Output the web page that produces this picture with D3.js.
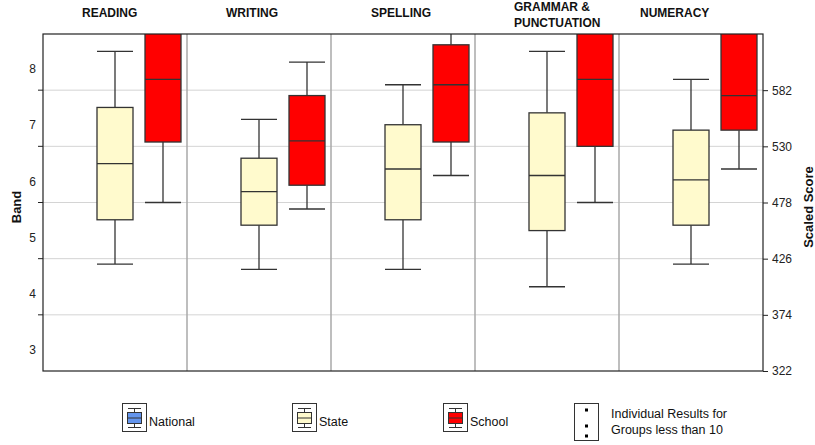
<!DOCTYPE html>
<html>
<head>
<meta charset="utf-8">
<script src="https://cdn.jsdelivr.net/npm/d3@7"></script>
<style>
  body { margin: 0; background: #fff; }
  svg { display: block; font-family: "Liberation Sans", Arial, sans-serif; }
</style>
</head>
<body>
<svg id="chart" width="815" height="445"></svg>
<script>
// ── data ────────────────────────────────────────────────────────────────
const subjects = ['READING', 'WRITING', 'SPELLING', 'GRAMMAR & PUNCTUATION', 'NUMERACY'];
const titleLines = [['READING'], ['WRITING'], ['SPELLING'], ['GRAMMAR &', 'PUNCTUATION'], ['NUMERACY']];
const series = ['National', 'State', 'School'];

// five-number summaries in scaled score: [min, q1, median, q3, max]
const nationalStats = [null, null, null, null, null];   // not shown
const stateStats = [
  [421, 462, 514, 566, 618],
  [416, 457, 488, 519, 555],
  [416, 462, 509, 550, 587],
  [400, 452, 503, 561, 618],
  [421, 457, 499, 545, 592],
];
const schoolStats = [
  [478, 534, 592, 650, 690],
  [472, 494, 535, 577, 608],
  [503, 534, 587, 624, 660],
  [478, 530, 592, 650, 690],
  [509, 545, 577, 650, 690],
];

const scoreTicks = [322, 374, 426, 478, 530, 582];
const bandLabels = [3, 4, 5, 6, 7, 8];

// ── layout ──────────────────────────────────────────────────────────────
const M = { left: 43, right: 763, top: 34, bottom: 371 };
const titleDx = [39, 39, 40, 39, 21];   // title left offset inside each column
const fills = { National: '#6495ED', State: '#FFFACD', School: '#FF0000' };
const ink = '#333';

const svg = d3.select('#chart');

const y = d3.scaleLinear().domain([322, 634]).range([M.bottom, M.top]);
const x = d3.scaleBand().domain(subjects).range([M.left, M.right]);
const xs = d3.scaleBand().domain(series).range([0, x.bandwidth()])
  .paddingInner(0.25).paddingOuter(0.125);

svg.append('defs').append('clipPath').attr('id', 'plotclip')
  .append('rect')
  .attr('x', M.left).attr('y', M.top)
  .attr('width', M.right - M.left).attr('height', M.bottom - M.top);

// gridlines
svg.append('g').selectAll('line')
  .data(scoreTicks.slice(1))
  .join('line')
    .attr('x1', M.left).attr('x2', M.right)
    .attr('y1', d => y(d)).attr('y2', d => y(d))
    .attr('stroke', '#d4d4d4').attr('stroke-width', 1);

// column dividers
svg.append('g').selectAll('line')
  .data(subjects.slice(1))
  .join('line')
    .attr('x1', d => x(d)).attr('x2', d => x(d))
    .attr('y1', M.top).attr('y2', M.bottom)
    .attr('stroke', '#a8a8a8').attr('stroke-width', 1.5);

// boxes
const boxes = [];
subjects.forEach((s, i) => {
  [['National', nationalStats[i]], ['State', stateStats[i]], ['School', schoolStats[i]]]
    .forEach(([name, st]) => { if (st && st[0] != null) boxes.push({ subject: s, name, st }); });
});

const plot = svg.append('g').attr('clip-path', 'url(#plotclip)');
const bg = plot.selectAll('g.box').data(boxes).join('g')
  .attr('class', 'box')
  .attr('transform', d => `translate(${x(d.subject) + xs(d.name)},0)`);
const bw = xs.bandwidth();

bg.append('line')   // lower whisker
  .attr('x1', bw / 2).attr('x2', bw / 2)
  .attr('y1', d => y(d.st[0])).attr('y2', d => y(d.st[1]))
  .attr('stroke', ink).attr('stroke-width', 1.3);
bg.append('line')   // upper whisker
  .attr('x1', bw / 2).attr('x2', bw / 2)
  .attr('y1', d => y(d.st[3])).attr('y2', d => y(d.st[4]))
  .attr('stroke', ink).attr('stroke-width', 1.3);
bg.selectAll('line.cap').data(d => [d.st[0], d.st[4]]).join('line')
  .attr('class', 'cap')
  .attr('x1', 0).attr('x2', bw)
  .attr('y1', v => y(v)).attr('y2', v => y(v))
  .attr('stroke', ink).attr('stroke-width', 1.3);
bg.append('rect')
  .attr('x', 0).attr('width', bw)
  .attr('y', d => y(d.st[3]))
  .attr('height', d => y(d.st[1]) - y(d.st[3]))
  .attr('fill', d => fills[d.name])
  .attr('stroke', ink).attr('stroke-width', 1.3);
bg.append('line')   // median
  .attr('x1', 0).attr('x2', bw)
  .attr('y1', d => y(d.st[2])).attr('y2', d => y(d.st[2]))
  .attr('stroke', ink).attr('stroke-width', 1.3);

// frame
svg.append('rect')
  .attr('x', M.left).attr('y', M.top)
  .attr('width', M.right - M.left).attr('height', M.bottom - M.top)
  .attr('fill', 'none').attr('stroke', '#222').attr('stroke-width', 1.2);

// left axis: ticks at band boundaries, labels in the middle of each band
svg.append('g').selectAll('line')
  .data(scoreTicks.slice(1))
  .join('line')
    .attr('x1', M.left - 5).attr('x2', M.left)
    .attr('y1', d => y(d)).attr('y2', d => y(d))
    .attr('stroke', '#222');
svg.append('g').selectAll('text')
  .data(bandLabels)
  .join('text')
    .attr('x', 36)
    .attr('y', (d, i) => y(322 + 52 * i + 26) + 8)
    .attr('text-anchor', 'end')
    .attr('dominant-baseline', 'middle')
    .attr('font-size', 12).attr('fill', '#222')
    .text(d => d);

// right axis
const right = svg.append('g').attr('transform', `translate(${M.right},0)`)
  .call(d3.axisRight(y).tickValues(scoreTicks).tickSize(5).tickPadding(4));
right.select('.domain').remove();
right.selectAll('line').attr('stroke', '#222');
right.selectAll('text').attr('font-size', 12).attr('fill', '#222')
  .attr('font-family', '"Liberation Sans", Arial, sans-serif');

// axis titles
svg.append('text')
  .attr('transform', 'translate(21,207) rotate(-90)')
  .attr('text-anchor', 'middle')
  .attr('font-size', 13).attr('font-weight', 'bold').attr('fill', '#111')
  .text('Band');
svg.append('text')
  .attr('transform', 'translate(813,207) rotate(-90)')
  .attr('text-anchor', 'middle')
  .attr('font-size', 13).attr('font-weight', 'bold').attr('fill', '#111')
  .text('Scaled Score');

// column titles
subjects.forEach((s, i) => {
  const lines = titleLines[i];
  const t = svg.append('text')
    .attr('x', x(s) + titleDx[i])
    .attr('font-size', 12).attr('font-weight', 'bold').attr('fill', '#111');
  lines.forEach((ln, k) => {
    t.append('tspan')
      .attr('x', x(s) + titleDx[i])
      .attr('y', lines.length === 1 ? 17 : 11 + 16 * k)
      .text(ln);
  });
});

// ── legend ──────────────────────────────────────────────────────────────
const legendX = [122, 292, 443];
series.forEach((name, i) => {
  const g = svg.append('g').attr('transform', `translate(${legendX[i]},403)`);
  g.append('rect').attr('x', 0.5).attr('y', 0.5).attr('width', 24).attr('height', 28)
    .attr('fill', '#fff').attr('stroke', ink);
  g.append('line').attr('x1', 12.5).attr('x2', 12.5).attr('y1', 5).attr('y2', 24)
    .attr('stroke', ink);
  [5, 24].forEach(cy => g.append('line')
    .attr('x1', 6).attr('x2', 19).attr('y1', cy + 0.5).attr('y2', cy + 0.5).attr('stroke', ink));
  g.append('rect').attr('x', 5.5).attr('y', 9.5).attr('width', 14).attr('height', 11)
    .attr('fill', fills[name]).attr('stroke', ink);
  g.append('line').attr('x1', 5.5).attr('x2', 19.5).attr('y1', 15).attr('y2', 15)
    .attr('stroke', ink);
  g.append('text').attr('x', 27).attr('y', 23)
    .attr('font-size', 12.5).attr('fill', '#111').text(name);
});

const ind = svg.append('g').attr('transform', 'translate(574,403)');
ind.append('rect').attr('x', 0.5).attr('y', 0.5).attr('width', 24).attr('height', 37)
  .attr('fill', '#fff').attr('stroke', ink);
[7, 23, 33].forEach(cy => ind.append('rect')
  .attr('x', 11).attr('y', cy - 1.5).attr('width', 3).attr('height', 3).attr('fill', '#000'));
ind.append('text').attr('x', 37).attr('y', 15)
  .attr('font-size', 12.5).attr('fill', '#111').text('Individual Results for');
ind.append('text').attr('x', 37).attr('y', 31)
  .attr('font-size', 12.5).attr('fill', '#111').text('Groups less than 10');
</script>
</body>
</html>
